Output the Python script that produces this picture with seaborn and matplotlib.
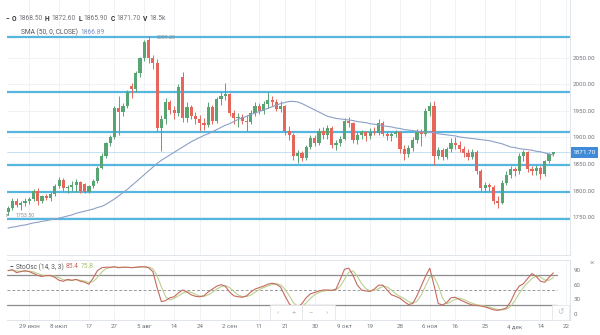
import matplotlib
matplotlib.use("Agg")
import matplotlib.pyplot as plt
from matplotlib.patches import Rectangle
import numpy as np
import pandas as pd
import seaborn as sns

# ---- daily sessions shown (22 Jun - 17 Dec) ----
dates = pd.bdate_range("2020-06-22", "2020-12-17")
axis_days = pd.bdate_range("2020-06-22", "2020-12-22")

opens = [1760, 1767, 1781, 1772, 1777, 1781, 1784, 1800, 1781, 1789,
         1786, 1794, 1808, 1820, 1804, 1806, 1811, 1816, 1812, 1798,
         1808, 1818, 1843, 1866, 1889, 1901, 1956, 1948, 1960, 1998,
         1992, 2021, 2049, 2083, 2050, 2040, 1918, 1934, 1966, 1952,
         1946, 2014, 1937, 1958, 1940, 1935, 1928, 1924, 1958, 1932,
         1972, 1978, 1982, 1946, 1936, 1938, 1932, 1930, 1947, 1960,
         1950, 1963, 1970, 1966, 1954, 1960, 1912, 1905, 1866, 1871,
         1862, 1882, 1899, 1890, 1912, 1904, 1918, 1886, 1890, 1898,
         1932, 1928, 1895, 1904, 1910, 1902, 1910, 1908, 1928, 1906,
         1902, 1906, 1910, 1878, 1868, 1880, 1896, 1910, 1906, 1950,
         1960, 1866, 1876, 1864, 1878, 1889, 1886, 1878, 1870, 1864,
         1873, 1836, 1805, 1810, 1806, 1780, 1776, 1815, 1830, 1840,
         1836, 1866, 1872, 1840, 1837, 1843, 1831, 1855, 1868.5]
highs = [1770, 1785, 1786, 1780, 1785, 1788, 1803, 1804, 1792, 1793,
         1797, 1812, 1826, 1824, 1810, 1818, 1821, 1818, 1815, 1811,
         1822, 1846, 1870, 1892, 1905, 1960, 1978, 1965, 1990, 2002,
         2025, 2052, 2083, 2089.2, 2056, 2048, 1942, 1975, 1970, 1960,
         2000, 2023, 1966, 1962, 1948, 1942, 1936, 1966, 1962, 1976,
         1986, 2003, 1984, 1952, 1946, 1945, 1942, 1952, 1966, 1965,
         1969, 1986, 1978, 1972, 1968, 1962, 1922, 1908, 1876, 1874,
         1886, 1905, 1904, 1918, 1920, 1924, 1922, 1896, 1902, 1937,
         1938, 1930, 1910, 1914, 1912, 1918, 1920, 1934, 1932, 1912,
         1910, 1915, 1912, 1885, 1886, 1900, 1916, 1916, 1955, 1966,
         1968, 1882, 1880, 1882, 1899, 1900, 1893, 1884, 1878, 1878,
         1876, 1840, 1816, 1815, 1810, 1790, 1820, 1836, 1846, 1845,
         1870, 1877, 1875, 1846, 1848, 1846, 1858, 1870, 1872.6]
lows = [1753.5, 1764, 1768, 1763, 1770, 1774, 1780, 1772, 1776, 1783,
        1780, 1790, 1804, 1800, 1795, 1800, 1798, 1796, 1795, 1795,
        1805, 1815, 1840, 1862, 1884, 1898, 1905, 1940, 1955, 1975,
        1985, 2015, 2045, 2040, 2030, 1912, 1874, 1925, 1945, 1935,
        1940, 1930, 1930, 1935, 1925, 1912, 1914, 1920, 1925, 1928,
        1962, 1970, 1940, 1925, 1920, 1925, 1912, 1925, 1940, 1944,
        1945, 1955, 1960, 1950, 1948, 1905, 1895, 1858, 1852, 1855,
        1858, 1878, 1884, 1886, 1898, 1898, 1880, 1876, 1884, 1895,
        1920, 1890, 1888, 1898, 1894, 1898, 1904, 1905, 1902, 1896,
        1894, 1900, 1870, 1857, 1864, 1875, 1890, 1884, 1903, 1940,
        1848, 1860, 1858, 1860, 1873, 1878, 1872, 1864, 1858, 1860,
        1832, 1800, 1798, 1800, 1775, 1767, 1774, 1810, 1824, 1828,
        1832, 1856, 1834, 1830, 1830, 1822, 1828, 1852, 1865.9]
closes = [1767, 1781, 1772, 1777, 1781, 1784, 1800, 1781, 1789, 1786,
          1794, 1808, 1820, 1804, 1806, 1811, 1816, 1800, 1798, 1808,
          1818, 1843, 1866, 1889, 1901, 1956, 1948, 1960, 1986, 1992,
          2021, 2049, 2080, 2050, 2040, 1918, 1934, 1966, 1952, 1946,
          1995, 1937, 1958, 1940, 1935, 1928, 1924, 1958, 1932, 1972,
          1978, 1982, 1946, 1936, 1938, 1932, 1930, 1947, 1960, 1950,
          1963, 1970, 1966, 1954, 1960, 1912, 1905, 1866, 1871, 1862,
          1882, 1899, 1890, 1912, 1904, 1918, 1886, 1890, 1898, 1932,
          1928, 1895, 1904, 1910, 1902, 1910, 1908, 1928, 1906, 1902,
          1906, 1910, 1878, 1868, 1880, 1896, 1910, 1906, 1950, 1960,
          1866, 1876, 1864, 1878, 1889, 1886, 1878, 1870, 1864, 1873,
          1836, 1805, 1810, 1806, 1780, 1776, 1815, 1830, 1840, 1836,
          1866, 1872, 1840, 1837, 1843, 1831, 1855, 1868.5, 1871.7]
sma50 = [1729, 1731, 1732, 1734, 1735, 1737, 1739, 1740, 1742, 1743,
         1745, 1746, 1748, 1750, 1752, 1754, 1757, 1759, 1761, 1763,
         1765, 1768, 1770, 1774, 1779, 1784, 1790, 1796, 1802, 1809,
         1816, 1823, 1830, 1837, 1844, 1851, 1857, 1862, 1867, 1872,
         1877, 1882, 1887, 1892, 1896, 1900, 1904, 1907, 1911, 1915,
         1919, 1923, 1926, 1930, 1934, 1937, 1940, 1943, 1946, 1949,
         1952, 1955, 1958, 1961, 1964, 1966, 1968, 1968, 1967, 1964,
         1960, 1956, 1952, 1948, 1944, 1940, 1938, 1936, 1935, 1934,
         1933, 1932, 1930, 1929, 1928, 1926, 1925, 1924, 1922, 1921,
         1920, 1918, 1917, 1915, 1914, 1913, 1912, 1911, 1910, 1910,
         1909, 1907, 1906, 1905, 1904, 1903, 1901, 1900, 1899, 1898,
         1897, 1896, 1895, 1894, 1892, 1890, 1888, 1885, 1882, 1881,
         1879, 1878, 1877, 1876, 1874, 1873, 1871, 1869, 1866.89]
stoch_k = [90, 92, 86, 88, 90, 88, 84, 80, 78, 80,
           80, 76, 70, 68, 72, 70, 72, 68, 66, 62,
           75, 90, 96, 97, 97, 98, 96, 97, 97, 96,
           97, 98, 98, 96, 88, 55, 26, 28, 34, 36,
           44, 50, 46, 40, 37, 36, 38, 46, 52, 58,
           61, 58, 46, 38, 36, 35, 38, 46, 52, 55,
           58, 62, 64, 62, 56, 38, 22, 12, 14, 22,
           34, 42, 45, 48, 50, 50, 49, 52, 72, 93,
           95, 80, 60, 50, 48, 47, 52, 60, 60, 50,
           40, 37, 33, 26, 20, 22, 38, 58, 78, 95,
           60, 22, 19, 24, 34, 35, 30, 26, 22, 19,
           18, 17, 15, 12, 9, 8, 10, 13, 26, 45,
           58, 63, 74, 84, 78, 68, 66, 76, 85.4]

level_lines = [2090, 1986, 1910, 1848, 1797, 1747]
price_ticks = [1750, 1800, 1850, 1900, 1950, 2000, 2050]
stoch_ticks = [0, 30, 60, 90]
date_tick_days = ["2020-06-29", "2020-07-08", "2020-07-17", "2020-07-27",
                  "2020-08-05", "2020-08-14", "2020-08-24", "2020-09-02",
                  "2020-09-11", "2020-09-21", "2020-09-30", "2020-10-09",
                  "2020-10-19", "2020-10-28", "2020-11-06", "2020-11-16",
                  "2020-11-25", "2020-12-04", "2020-12-14", "2020-12-22"]
date_tick_labels = ["29 июн", "8 июл", "17", "27", "5 авг", "14", "24",
                    "2 сен", "11", "21", "30", "9 окт", "19", "28",
                    "6 ноя", "16", "25", "4 дек", "14", "22"]

df = pd.DataFrame({"bar": np.arange(len(dates)), "open": opens, "high": highs,
                   "low": lows, "close": closes, "sma": sma50, "k": stoch_k})
df["d"] = df["k"].rolling(3, min_periods=1).mean()
tick_pos = [axis_days.get_loc(pd.Timestamp(d)) for d in date_tick_days]

# ---- style ----
sns.set_theme(style="white")
plt.rcParams["font.family"] = ["Roboto", "DejaVu Sans"]
GREEN = "#58a472"
RED = "#e5675c"
LEVEL = "#55b6df"
GRID = "#eef1f4"
TXT = "#6f7378"
FS = 4.4

W, H = 600, 335
fig = plt.figure(figsize=(W / 100, H / 100), dpi=100)


def fx(px):
    return px / W


def fy(py):
    return 1 - py / H


x_lo = (7 - 8) / 4.26
x_hi = (570 - 8) / 4.26
ax = fig.add_axes([fx(7), fy(255), fx(570) - fx(7), fy(0) - fy(255)])
ax2 = fig.add_axes([fx(7), fy(320), fx(570) - fx(7), fy(260) - fy(320)])

# ---- main panel ----
ax.set_xlim(x_lo, x_hi)
ax.set_ylim(1850 - 91 * 1.886, 1850 + 164 * 1.886)
for p in tick_pos:
    ax.axvline(p, color=GRID, lw=0.6, zorder=0)
for p in price_ticks:
    ax.axhline(p, color=GRID, lw=0.6, zorder=0)
for lv in level_lines:
    ax.axhline(lv, color=LEVEL, lw=1.6, zorder=1)
ax.axhline(closes[-1], color="#b9ddf0", lw=0.6, zorder=1)

up = df["close"] >= df["open"]
colors = np.where(up, GREEN, RED)
ax.vlines(df["bar"], df["low"], df["high"], colors=colors, lw=0.7, zorder=3)
body_lo = np.minimum(df["open"], df["close"])
body_h = np.maximum((df["close"] - df["open"]).abs(), 1.2)
ax.bar(df["bar"], body_h, bottom=body_lo, width=0.75, color=colors,
       linewidth=0, zorder=4)
sns.lineplot(data=df, x="bar", y="sma", ax=ax, color="#8e9fc6", lw=0.8,
             zorder=5, legend=False)

ax.yaxis.tick_right()
ax.set_yticks(price_ticks)
ax.set_yticklabels([f"{p:.2f}" for p in price_ticks], fontsize=FS, color=TXT)
ax.tick_params(axis="y", length=0, pad=2)
ax.set_xticks([])
ax.set_xlabel("")
ax.set_ylabel("")
for s in ["left", "top"]:
    ax.spines[s].set_visible(False)
for s in ["right", "bottom"]:
    ax.spines[s].set_color("#dfe5ea")
    ax.spines[s].set_linewidth(0.7)

# peak / trough markers
ax.annotate("2089.20", xy=(33, 2089.2), xytext=(35.0, 2089.2), fontsize=3.8,
            color="#8a8f95", va="center", ha="left",
            arrowprops=dict(arrowstyle="-", color="#8a8f95", lw=0.5))
ax.annotate("1753.50", xy=(0, 1753.5), xytext=(1.7, 1753.5), fontsize=3.8,
            color="#8a8f95", va="center", ha="left",
            arrowprops=dict(arrowstyle="<-", color="#8a8f95", lw=0.5))

# last price tag
fig.patches.append(Rectangle((fx(571), fy(158)), fx(27), fy(147) - fy(158),
                             transform=fig.transFigure, facecolor="#3f8bd8",
                             edgecolor="none"))
fig.text(fx(584), fy(152.5), "1871.70", fontsize=FS + 0.2, color="white",
         ha="center", va="center")

# ---- stochastic panel ----
st_lo, st_hi = (314.2 - 320) / 0.484, (314.2 - 260) / 0.484
ax2.set_xlim(x_lo, x_hi)
ax2.set_ylim(st_lo, st_hi)
for p in tick_pos:
    ax2.axvline(p, color=GRID, lw=0.6, zorder=0)
xmax_frac = (557 - 7) / (570 - 7)
ax2.axhline(80, xmax=xmax_frac, color="#8c8c8c", lw=0.9)
ax2.axhline(20, xmax=xmax_frac, color="#8c8c8c", lw=0.9)
ax2.axhline(50, xmax=xmax_frac, color="#9a9a9a", lw=0.7, ls=(0, (3, 2)))
sns.lineplot(data=df, x="bar", y="d", ax=ax2, color="#bcd08f", lw=0.8,
             legend=False)
sns.lineplot(data=df, x="bar", y="k", ax=ax2, color="#c56a5f", lw=0.8,
             legend=False)
ax2.set_yticks([])
ax2.set_xticks(tick_pos)
ax2.set_xticklabels(date_tick_labels, fontsize=FS, color=TXT)
ax2.tick_params(axis="x", length=0, pad=3)
ax2.set_xlabel("")
ax2.set_ylabel("")
for s in ax2.spines.values():
    s.set_color("#dfe5ea")
    s.set_linewidth(0.7)
ax2.spines["left"].set_visible(False)

# oscillator scale on the right, placed from the panel's own data scale
bottom_px, top_px = 320, 260
for t in stoch_ticks:
    frac = (t - st_lo) / (st_hi - st_lo)
    ypx = bottom_px - frac * (bottom_px - top_px)
    fig.text(fx(574), fy(ypx), str(t), fontsize=FS, color=TXT,
             va="center", ha="left", zorder=12)


# ---- legends / headers: runs of text laid out left to right ----
def text_run(x, y, parts, gap=2.2, size=FS + 0.4):
    renderer = fig.canvas.get_renderer()
    cur = x
    for s, color, weight in parts:
        t = fig.text(fx(cur), fy(y), s, fontsize=size, color=color,
                     weight=weight, ha="left", va="center")
        bb = t.get_window_extent(renderer=renderer)
        cur += bb.width + gap


DARK = "#333333"
text_run(6, 19, [("−", DARK, "bold"), ("O", DARK, "bold"), ("1868.50", TXT, "normal"),
                 ("H", DARK, "bold"), ("1872.60", TXT, "normal"),
                 ("L", DARK, "bold"), ("1865.90", TXT, "normal"),
                 ("C", DARK, "bold"), ("1871.70", TXT, "normal"),
                 ("V", DARK, "bold"), ("18.5k", TXT, "normal")])
text_run(21, 32.5, [("SMA (50, 0, CLOSE)", "#555555", "normal"),
                    ("1866.89", "#7f93c4", "normal")])
text_run(10, 267, [("−", DARK, "bold"), ("StoOsc (14, 3, 3)", "#555555", "normal"),
                   ("85.4", "#c5675c", "normal"), ("75.8", "#a9c36f", "normal")])

# ---- chart navigation controls ----
for (x0, w) in [(270, 32), (302, 33), (552, 17)]:
    fig.patches.append(Rectangle((fx(x0), fy(320)), fx(w), fy(305) - fy(320),
                                 transform=fig.transFigure, facecolor="white",
                                 edgecolor="#e3e7eb", lw=0.6, zorder=10))
for x, s in [(278, "‹"), (294, "+"), (311, "−"), (327, "›"), (560.5, "↺")]:
    fig.text(fx(x), fy(312.5), s, fontsize=5.5, color="#b9bec4", ha="center",
             va="center", zorder=11)
fig.text(fx(592), fy(263), "×", fontsize=6, color="#9aa0a6", ha="center",
         va="center")

fig.savefig("out.png", dpi=100)
